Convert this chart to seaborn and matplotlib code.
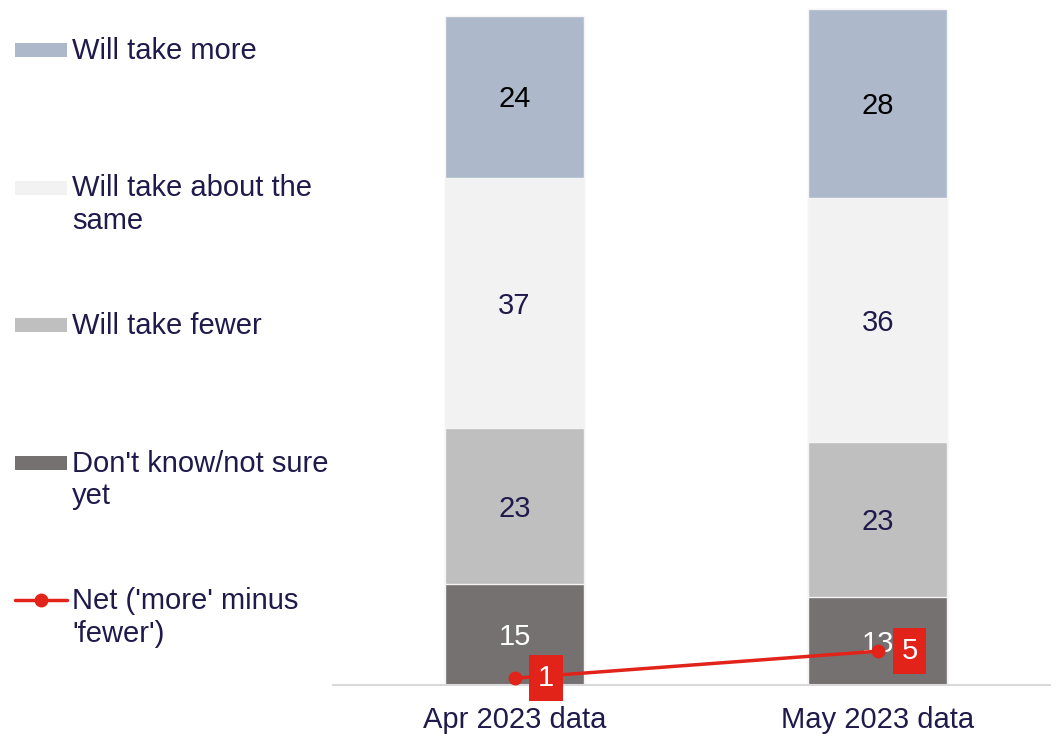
import pandas as pd
import seaborn as sns
import matplotlib.pyplot as plt
from matplotlib.patches import Rectangle
from matplotlib.lines import Line2D

# values
periods = ['Apr 2023 data', 'May 2023 data']
will_take_more = [24, 28]
about_the_same = [37, 36]
will_take_fewer = [23, 23]
dont_know = [15, 13]
net_more_minus_fewer = [1, 5]

legend_labels = ['Will take more', 'Will take about the\nsame', 'Will take fewer',
                 "Don't know/not sure\nyet", "Net ('more' minus\n'fewer')"]

COLORS = {'more': '#ADB9CA', 'same': '#F2F2F2', 'fewer': '#BFBFBF', 'dk': '#767171'}
LABEL_COLORS = {'more': 'black', 'same': '#1F1A4B', 'fewer': '#1F1A4B', 'dk': 'white'}
NET_COLOR = '#E2231A'
TEXT_COLOR = '#1F1A4B'
FS = 21

sns.set_style('white')
plt.rcParams['font.family'] = ['Liberation Sans', 'DejaVu Sans']


def build_df():
    df = pd.DataFrame({'period': periods, 'dk': dont_know, 'fewer': will_take_fewer,
                       'same': about_the_same, 'more': will_take_more, 'net': net_more_minus_fewer})
    stack = ['dk', 'fewer', 'same', 'more']
    cum = df[stack].cumsum(axis=1)
    for s in stack:
        df['top_' + s] = cum[s]
        df['bot_' + s] = cum[s] - df[s]
    return df, stack


def draw_bars(ax, df, stack):
    # classic seaborn stacking: draw cumulative totals, tallest first
    for s in reversed(stack):
        sns.barplot(data=df, x='period', y='top_' + s, color=COLORS[s], saturation=1,
                    width=0.383, edgecolor='#F4F4F4', linewidth=1, ax=ax)
    for i, row in df.iterrows():
        for s in stack:
            ax.annotate(str(row[s]), (i, row['bot_' + s] + row[s] / 2), xytext=(0, -2),
                        textcoords='offset points', ha='center', va='center',
                        fontsize=FS, color=LABEL_COLORS[s], zorder=5)


def draw_net(ax, df):
    sns.lineplot(x=list(range(len(df))), y=df['net'], color=NET_COLOR, marker='o',
                 markersize=10, markeredgewidth=0, linewidth=2.5, ax=ax, zorder=6)
    for i, v in enumerate(df['net']):
        ax.annotate(str(v), (i, v), xytext=(17, 0), textcoords='offset points',
                    ha='left', va='center', color='white', fontsize=FS, zorder=7,
                    bbox=dict(boxstyle='square,pad=0.3', fc=NET_COLOR, ec='none'))


def draw_legend(fig):
    lax = fig.add_axes([0, 0, 1, 1])
    lax.set_xlim(0, 1051)
    lax.set_ylim(736, 0)
    lax.axis('off')
    keys = ['more', 'same', 'fewer', 'dk']
    for k, lab in enumerate(legend_labels):
        yc = 50 + k * 137.5
        if k < 4:
            lax.add_patch(Rectangle((15, yc - 7), 52, 14, color=COLORS[keys[k]], lw=0))
        else:
            lax.add_line(Line2D([15, 67], [yc, yc], color=NET_COLOR, lw=2.5))
            lax.plot([41], [yc], 'o', color=NET_COLOR, markersize=10, markeredgewidth=0)
        lax.text(72, yc - 13, lab, ha='left', va='top', fontsize=FS, color=TEXT_COLOR,
                 linespacing=1.22)


def main():
    df, stack = build_df()
    fig = plt.figure(figsize=(10.51, 7.36), dpi=100)
    ax = fig.add_axes([333 / 1051, 51 / 736, 718 / 1051, 685 / 736])
    draw_bars(ax, df, stack)
    draw_net(ax, df)
    ax.set_xlim(-0.5, 1.477)
    ax.set_ylim(0, 101.3)
    ax.set_yticks([])
    ax.set_xlabel('')
    ax.set_ylabel('')
    sns.despine(ax=ax, left=True)
    ax.spines['bottom'].set_color('#D9D9D9')
    ax.spines['bottom'].set_linewidth(1.5)
    ax.tick_params(axis='x', length=0, pad=15, labelsize=FS, labelcolor=TEXT_COLOR)
    draw_legend(fig)
    fig.savefig('out.png', dpi=100)


main()
